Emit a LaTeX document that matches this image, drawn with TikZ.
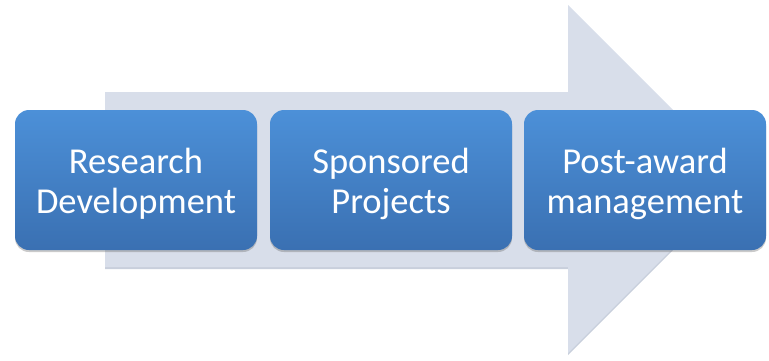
\documentclass[tikz,border=0pt]{standalone}
\usepackage{fontspec}
\setmainfont{Carlito}
\usetikzlibrary{shadows}
\definecolor{boxtop}{RGB}{76,144,216}
\definecolor{boxbot}{RGB}{58,112,178}
\definecolor{arrowfill}{RGB}{216,222,234}
\definecolor{arrowshade}{RGB}{200,207,220}
\newcommand{\twolines}[2]{\raisebox{-5pt}[\height][\depth]{\setlength{\tabcolsep}{0pt}\begin{tabular}{c}#1\\#2\end{tabular}}}
\tikzset{
  stagebox/.style={rectangle, rounded corners=14pt, minimum width=242pt, minimum height=140pt,
    top color=boxtop, bottom color=boxbot, draw=none, text=white, inner sep=0pt,
    font=\fontsize{36.5}{40}\selectfont,
    drop shadow={shadow xshift=0pt, shadow yshift=-2pt, opacity=0.35, fill=black!60}},
}
\begin{document}
\begin{tikzpicture}[x=1pt,y=-1pt]
\useasboundingbox (0,0) rectangle (769,360);
\fill[arrowshade] (105,94) -- (568,94) -- (568,7) -- (742,181) -- (568,355) -- (568,269) -- (105,269) -- cycle;
\fill[arrowfill] (105,92) -- (568,92) -- (568,5) -- (742,179) -- (568,353) -- (568,267) -- (105,267) -- cycle;
\node[stagebox] (rd) at (136,180) {\twolines{Research}{Development}};
\node[stagebox] (sp) at (391,180) {\twolines{Sponsored}{Projects}};
\node[stagebox] (pa) at (645,180) {\twolines{Post-award}{management}};
\end{tikzpicture}
\end{document}
